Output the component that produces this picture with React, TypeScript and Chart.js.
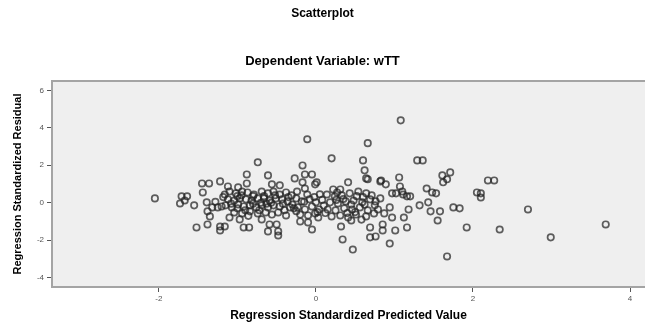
import React, { useEffect, useRef } from "react";
import { Chart, registerables } from "chart.js";

Chart.register(...registerables);

const chartTitle = "Scatterplot";
const chartSubtitle = "Dependent Variable: wTT";
const xAxisTitle = "Regression Standardized Predicted Value";
const yAxisTitle = "Regression Standardized Residual";

const xTickValues = [-2, 0, 2, 4];
const yTickValues = [-4, -2, 0, 2, 4, 6];

// Regression standardized predicted value
const predicted = [
  -2.05, -1.71, -1.64, -1.73, -1.67, -1.55, -1.45, -1.36, -1.22, -1.44,
  -1.39, -1.32, -1.25, -1.20, -1.38, -1.35, -1.52, -1.38, -1.22, -1.16,
  -1.22, -0.92, -0.85, -1.12, -0.99, -0.88, -0.88, -0.74, -1.16, -1.10,
  -1.02, -0.94, -0.87, -0.79, -1.12, -1.04, -0.97, -0.89, -0.82, -0.74,
  -1.15, -1.07, -0.99, -0.92, -0.84, -0.76, -1.04, -0.94, -0.84, -0.74,
  -1.10, -0.97, -0.69, -0.61, -0.54, -0.46, -0.38, -0.66, -0.59, -0.51,
  -0.43, -0.36, -0.69, -0.61, -0.54, -0.46, -0.33, -0.64, -0.56, -0.48,
  -0.38, -0.69, -0.31, -0.59, -0.50, -0.61, -0.48, -0.48, -0.61, -0.56,
  -0.46, -0.27, -0.17, -0.14, -0.05, -0.17, 0.01, -0.24, -0.14, -0.11,
  -0.11, -0.25, -0.18, -0.08, 0.00, -0.23, -0.14, -0.05, 0.04, -0.20,
  -0.10, -0.01, 0.03, -0.10, -0.05, -0.20, 0.22, 0.31, 0.14, 0.24,
  0.33, 0.43, 0.54, 0.64, 0.71, 0.18, 0.28, 0.38, 0.48, 0.59,
  0.69, 0.15, 0.25, 0.36, 0.46, 0.56, 0.66, 0.75, 0.20, 0.31,
  0.41, 0.51, 0.64, 0.74, 0.32, 0.34, 0.47, 0.69, 0.69, 0.76,
  0.20, 0.60, 0.62, 0.66, 0.41, 0.64, 0.66, 1.08, -0.01, 0.82,
  0.83, 1.06, 1.07, 1.10, 1.11, 1.16, 1.20, 0.97, 1.02, 0.82,
  0.76, 0.79, 0.87, 0.94, 1.18, 1.32, 1.43, 1.46, 1.58, 1.75,
  1.55, 0.97, 1.12, 0.85, 0.85, 1.01, 1.16, 0.94, 1.29, 1.36,
  1.61, 1.67, 1.71, 1.62, 1.41, 1.48, 1.53, 1.92, 1.67, 2.19,
  2.27, 2.05, 2.10, 2.10, 1.83, 2.70, 2.34, 2.99, 3.69, 0.89,
  -0.80, -0.66, -0.30, -0.02, 0.45, 0.60, -1.00, -0.40, 0.10, 0.35,
  -0.86, 0.50, -0.57, 0.02, 0.26, -0.25, -1.28, -1.18, -1.08, -0.95,
  -0.80, -0.70, -0.63, -0.52, -0.42, -0.35, -0.28, -0.15, 0.08, 0.12,
  0.40, 0.52, 0.62, 0.27, -0.72, -0.90, -1.00, 0.45, 0.58, 0.05,
];

// Regression standardized residual
const residual = [
  0.23, 0.34, 0.34, -0.04, 0.12, -0.14, 1.03, 1.03, 1.14, 0.55,
  0.02, -0.25, -0.25, -0.20, -0.46, -0.73, -1.32, -1.16, -1.27, -1.27,
  -1.48, -1.32, -1.32, 0.87, 0.82, 1.51, 1.03, 2.16, 0.44, 0.60,
  0.50, 0.60, 0.55, 0.44, 0.18, 0.12, 0.23, 0.18, 0.12, 0.23,
  -0.14, -0.25, -0.09, -0.20, -0.14, -0.25, -0.52, -0.57, -0.46, -0.57,
  -0.79, -0.89, 0.60, 0.50, 0.60, 0.44, 0.55, 0.23, 0.12, 0.23,
  0.18, 0.07, -0.14, -0.25, -0.14, -0.20, -0.25, -0.52, -0.63, -0.52,
  -0.68, -0.89, 0.39, -1.16, -1.16, -1.53, -1.53, -1.75, 1.46, 0.98,
  0.93, 1.30, 1.99, 1.51, 1.51, 1.09, 1.09, 0.60, 0.76, 0.44,
  3.39, 0.23, 0.07, 0.18, 0.02, -0.25, -0.36, -0.20, -0.36, -0.63,
  -0.68, -0.57, -0.79, -1.05, -1.43, -1.00, 0.71, 0.71, 0.44, 0.34,
  0.39, 0.50, 0.60, 0.50, 0.39, 0.02, -0.04, 0.07, 0.12, 0.02,
  0.18, -0.36, -0.41, -0.30, -0.36, -0.25, -0.41, -0.14, -0.73, -0.68,
  -0.79, -0.63, -0.73, -0.57, -1.27, -1.96, -2.50, -1.32, -1.85, -1.80,
  2.37, 2.26, 1.73, 1.25, 1.09, 1.30, 3.18, 4.40, 0.98, 1.14,
  1.19, 1.35, 0.87, 0.60, 0.44, 0.34, 0.34, 0.50, 0.50, 0.23,
  0.07, -0.36, -0.57, -0.25, -0.36, -0.14, 0.02, -0.46, -0.46, -0.25,
  -0.95, -0.79, -0.79, -1.16, -1.48, -1.48, -1.32, -2.18, 2.26, 2.26,
  1.46, 1.25, 1.62, 1.09, 0.76, 0.55, 0.50, -1.32, -2.87, 1.19,
  1.19, 0.55, 0.50, 0.28, -0.30, -0.36, -1.43, -1.85, -1.16, 0.98,
  -0.05, 0.35, -0.10, 0.30, -0.10, 0.30, 0.35, -0.40, -0.15, 0.20,
  -0.70, -0.50, 0.00, -0.50, 0.15, -0.45, 0.05, 0.30, -0.05, 0.40,
  0.35, 0.00, -0.05, 0.40, -0.05, 0.30, -0.30, 0.05, 0.15, -0.55,
  -0.55, 0.35, -0.10, 0.55, -0.40, -0.40, -0.30, -0.95, -0.90, 0.45,
];

const FONT = "'Liberation Sans', Arial, sans-serif";

const plotFrame = {
  id: "plotFrame",
  beforeDraw(chart: any) {
    const { ctx, chartArea } = chart;
    ctx.save();
    ctx.fillStyle = "#efefef";
    ctx.fillRect(chartArea.left, chartArea.top, chartArea.right - chartArea.left, chartArea.bottom - chartArea.top);
    ctx.restore();
  },
  afterDraw(chart: any) {
    const { ctx, chartArea } = chart;
    ctx.save();
    ctx.strokeStyle = "#a4a4a4";
    ctx.lineWidth = 2;
    ctx.beginPath();
    ctx.moveTo(chartArea.right, chartArea.top);
    ctx.lineTo(chartArea.left, chartArea.top);
    ctx.lineTo(chartArea.left, chartArea.bottom);
    ctx.lineTo(chartArea.right, chartArea.bottom);
    ctx.stroke();
    ctx.restore();
  },
};

export default function App() {
  const canvasRef = useRef<HTMLCanvasElement | null>(null);

  useEffect(() => {
    if (!canvasRef.current) return;
    const points = predicted.map((x, i) => ({ x, y: residual[i] }));
    const chart = new Chart(canvasRef.current, {
      type: "scatter",
      data: {
        datasets: [
          {
            data: points,
            pointStyle: "circle",
            pointRadius: 3.2,
            pointBorderWidth: 1.7,
            borderColor: "rgba(35,35,35,0.72)",
            backgroundColor: "rgba(0,0,0,0)",
          },
        ],
      },
      options: {
        animation: false,
        responsive: false,
        maintainAspectRatio: false,
        devicePixelRatio: 1,
        layout: { autoPadding: false, padding: { left: 0, right: 0, top: 0, bottom: 0 } },
        plugins: {
          legend: { display: false },
          tooltip: { enabled: false },
          title: {
            display: true,
            text: chartTitle,
            color: "#000",
            font: { family: FONT, size: 12, weight: "bold" },
            padding: { top: 6, bottom: 16 },
          },
          subtitle: {
            display: true,
            text: chartSubtitle,
            color: "#000",
            font: { family: FONT, size: 13, weight: "bold" },
            padding: { top: 17, bottom: 12 },
          },
        },
        scales: {
          x: {
            type: "linear",
            min: -3.36,
            max: 4.19,
            afterBuildTicks: (scale: any) => {
              scale.ticks = xTickValues.map((v) => ({ value: v }));
            },
            afterFit: (scale: any) => {
              scale.height = 36;
              scale.paddingLeft = 0;
              scale.paddingRight = 0;
            },
            grid: { display: true, drawOnChartArea: false, drawTicks: true, tickLength: 5, color: "#555", lineWidth: 1 },
            border: { display: false },
            ticks: { color: "#555", font: { family: FONT, size: 8 }, padding: 2, maxRotation: 0, autoSkip: false },
            title: {
              display: true,
              text: xAxisTitle,
              color: "#000",
              font: { family: FONT, size: 12, weight: "bold" },
              padding: { top: 0, bottom: 0 },
            },
          },
          y: {
            type: "linear",
            min: -4.5,
            max: 6.5,
            afterBuildTicks: (scale: any) => {
              scale.ticks = yTickValues.map((v) => ({ value: v }));
            },
            afterFit: (scale: any) => {
              scale.width = 52;
              scale.paddingTop = 0;
              scale.paddingBottom = 0;
            },
            grid: { display: true, drawOnChartArea: false, drawTicks: true, tickLength: 5, color: "#555", lineWidth: 1 },
            border: { display: false },
            ticks: { color: "#555", font: { family: FONT, size: 8 }, padding: 3, autoSkip: false },
            title: {
              display: true,
              text: yAxisTitle,
              color: "#000",
              font: { family: "'Liberation Sans Narrow', 'Liberation Sans', Arial, sans-serif", size: 11, weight: "bold" },
              padding: { top: 11, bottom: 0 },
            },
          },
        },
      },
      plugins: [plotFrame],
    });
    return () => chart.destroy();
  }, []);

  return (
    <div style={{ position: "fixed", left: 0, top: 0, width: 645, height: 323, background: "#fff" }}>
      <canvas ref={canvasRef} width={645} height={323} style={{ display: "block", width: 645, height: 323 }} />
    </div>
  );
}
